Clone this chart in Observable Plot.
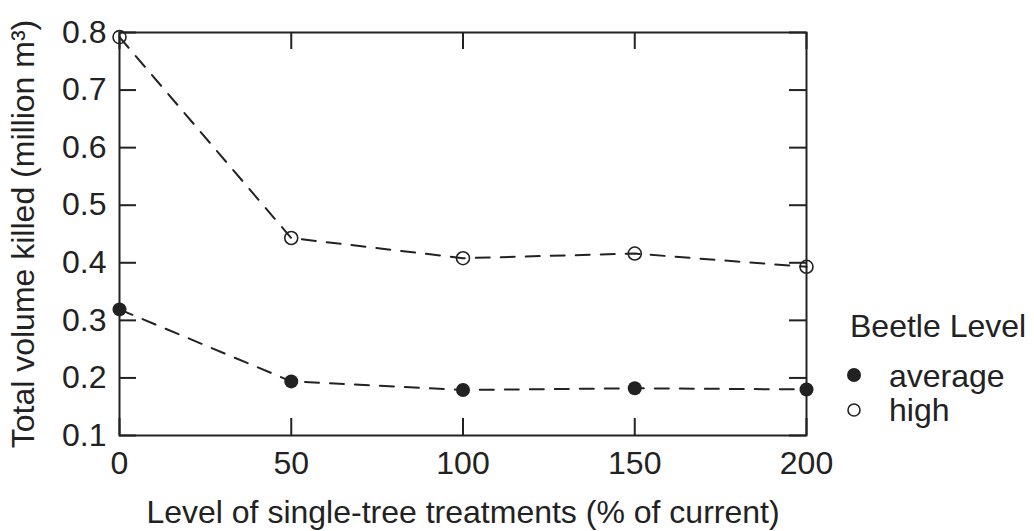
<!DOCTYPE html>
<html>
<head>
<meta charset="utf-8">
<script src="https://cdn.jsdelivr.net/npm/d3@7"></script>
<script src="https://cdn.jsdelivr.net/npm/@observablehq/plot@0.6"></script>
<style>
  html, body { margin: 0; padding: 0; background: #fff; }
  #wrap { position: relative; width: 1034px; height: 531px; font-family: "Liberation Sans", Arial, Helvetica, sans-serif; color: #222; }
  #legend { position: absolute; left: 0; top: 0; }
</style>
</head>
<body>
<div id="wrap"></div>
<script>
// Data
const treatments = [0, 50, 100, 150, 200];
const averageVals = [0.319, 0.194, 0.179, 0.182, 0.180];
const highVals = [0.792, 0.443, 0.408, 0.416, 0.393];
const seriesNames = ["average", "high"];
const xTicks = [0, 50, 100, 150, 200];
const yTicks = [0.1, 0.2, 0.3, 0.4, 0.5, 0.6, 0.7, 0.8];
const xTitle = "Level of single-tree treatments (% of current)";
const yTitle = "Total volume killed (million m³)";
const legendTitle = "Beetle Level";

const rows = [
  ...treatments.map((t, i) => ({x: t, y: averageVals[i], s: seriesNames[0]})),
  ...treatments.map((t, i) => ({x: t, y: highVals[i], s: seriesNames[1]}))
];

const W = 1034, H = 531, mt = 32, mb = 96, ml = 119, mr = 228;
const ph = H - mt - mb, pw = W - ml - mr;
const ink = "#222";
const tick = 17;
const fs = 32;

const chart = Plot.plot({
  width: W, height: H,
  marginTop: mt, marginBottom: mb, marginLeft: ml, marginRight: mr,
  style: {fontFamily: '"Liberation Sans", Arial, Helvetica, sans-serif', color: ink, background: "#fff"},
  x: {domain: [0, 200], ticks: xTicks},
  y: {domain: [0.1, 0.8], ticks: yTicks},
  marks: [
    Plot.axisX({ticks: xTicks, tickSize: 0, tickPadding: 16, fontSize: fs, tickFormat: d => String(d),
      label: xTitle, labelAnchor: "center", labelArrow: "none", labelOffset: 87}),
    Plot.axisY({ticks: yTicks, tickSize: 0, tickPadding: 13, fontSize: fs, tickFormat: d => d.toFixed(1),
      label: yTitle, labelAnchor: "center", labelArrow: "none", labelOffset: 108}),
    // inward ticks on all four sides
    Plot.tickX(xTicks, {x: d => d, insetTop: ph - tick, stroke: ink, strokeWidth: 2}),
    Plot.tickX(xTicks, {x: d => d, insetBottom: ph - tick, stroke: ink, strokeWidth: 2}),
    Plot.tickY(yTicks, {y: d => d, insetRight: pw - tick, stroke: ink, strokeWidth: 2}),
    Plot.tickY(yTicks, {y: d => d, insetLeft: pw - tick, stroke: ink, strokeWidth: 2}),
    Plot.frame({stroke: ink, strokeWidth: 2}),
    Plot.line(rows, {x: "x", y: "y", z: "s", stroke: ink, strokeWidth: 2, strokeDasharray: "14,11"}),
    Plot.dot(rows.filter(d => d.s === "average"), {x: "x", y: "y", r: 7, fill: ink, stroke: "none"}),
    Plot.dot(rows.filter(d => d.s === "high"), {x: "x", y: "y", r: 6.5, fill: "none", stroke: ink, strokeWidth: 1.6})
  ]
});
document.getElementById("wrap").appendChild(chart);

// Legend (right side, outside the plot frame)
const ns = "http://www.w3.org/2000/svg";
const lg = document.createElementNS(ns, "svg");
lg.setAttribute("id", "legend");
lg.setAttribute("width", W); lg.setAttribute("height", H);
lg.style.pointerEvents = "none";
function t(x, y, s) {
  const e = document.createElementNS(ns, "text");
  e.setAttribute("x", x); e.setAttribute("y", y);
  e.setAttribute("font-size", fs); e.setAttribute("fill", ink);
  e.setAttribute("font-family", '"Liberation Sans", Arial, Helvetica, sans-serif');
  e.textContent = s; lg.appendChild(e);
}
function c(x, y, filled) {
  const e = document.createElementNS(ns, "circle");
  e.setAttribute("cx", x); e.setAttribute("cy", y);
  e.setAttribute("r", filled ? 7 : 6);
  e.setAttribute("fill", filled ? ink : "none");
  e.setAttribute("stroke", filled ? "none" : ink);
  e.setAttribute("stroke-width", 1.6);
  lg.appendChild(e);
}
t(850, 337, legendTitle);
c(854, 375, true); t(889, 387, seriesNames[0]);
c(854, 410, false); t(889, 421, seriesNames[1]);
document.getElementById("wrap").appendChild(lg);
</script>
</body>
</html>
